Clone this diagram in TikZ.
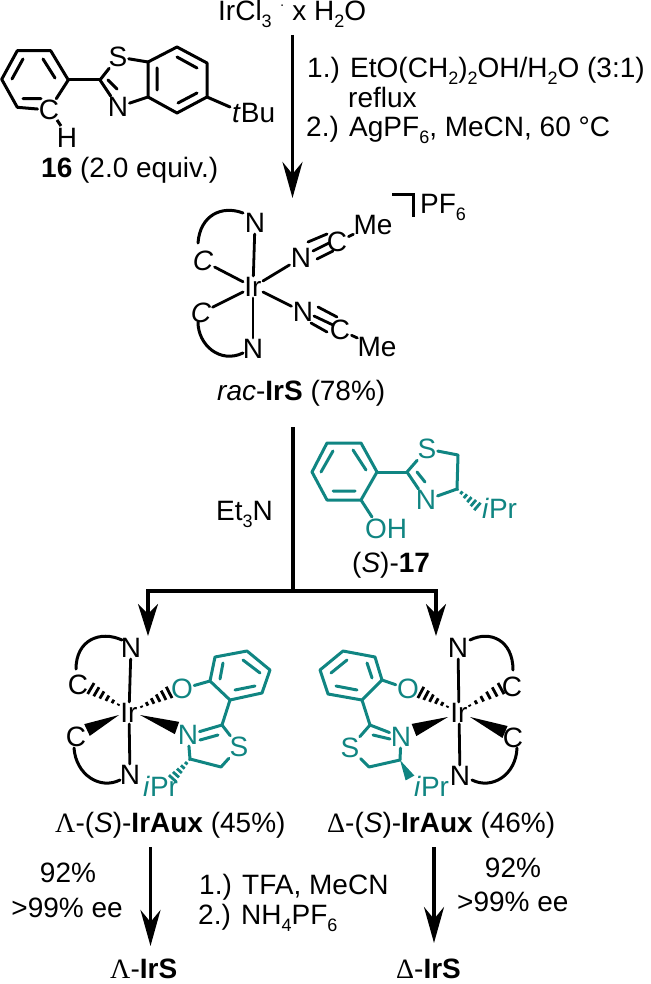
\documentclass[tikz,border=0pt]{standalone}
\usepackage{fontspec}
\setmainfont{Liberation Sans}
\newfontfamily\grk{Liberation Serif}
\usetikzlibrary{calc,arrows.meta}
\definecolor{aux}{RGB}{16,133,130}
\newcommand\sbs[1]{\raisebox{-0.25em}{\fontsize{18}{18}\selectfont #1}}
\newcommand\hashbond[5][black]{%
  \foreach \hs in {0.02,0.21,0.40,0.59,0.78,0.97}{%
    \pgfmathsetlengthmacro\hw{#4+(#5-#4)*\hs}%
    \draw[color=#1,line width=2.8pt]
      ($($(#2)!\hs!(#3)$)!\hw!90:(#3)$) -- ($($(#2)!\hs!(#3)$)!\hw!-90:(#3)$);}}
\newcommand\wedgebond[4][black]{%
  \fill[#1] (#2) -- ($(#3)!#4!90:(#2)$) -- ($(#3)!#4!-90:(#2)$) -- cycle;}
\tikzset{
  txt/.style={inner sep=0pt,anchor=base west,font=\fontsize{28}{30}\selectfont},
  ctxt/.style={inner sep=0pt,anchor=base,font=\fontsize{28}{30}\selectfont},
  atom/.style={inner sep=1.2pt,font=\fontsize{28}{30}\selectfont},
  bond/.style={line width=3pt,line cap=round,line join=round},
  tbond/.style={bond,color=aux},
  mbond/.style={line width=2.8pt,line cap=round},
  arrowA/.style={line width=3.6pt,-{Stealth[length=36pt,width=20pt,inset=12pt]}},
  arrowB/.style={line width=3.2pt,-{Stealth[length=32pt,width=20pt,inset=10pt]}},
  rail/.style={line width=3.4pt}
}
\begin{document}
\begin{tikzpicture}[x=1pt,y=-1pt]
\useasboundingbox (0,0) rectangle (650,984);

% ---- top reagent and conditions
\node[txt] (ircl) at (218,21) {IrCl\sbs{3}\hspace{8pt}\raisebox{0.42em}{\fontsize{14}{14}\selectfont·}\hspace{8pt}x H\sbs{2}O};
\coordinate (a1s) at (292.5,35);
\coordinate (a1e) at (292.5,198);
\draw[arrowA] (a1s) -- (a1e);
\node[txt] (c1) at (307,78) {1.) EtO(CH\sbs{2})\sbs{2}OH/H\sbs{2}O (3:1)};
\node[txt] (c2) at (348,108) {reflux};
\node[txt] (c3) at (306,137) {2.) AgPF\sbs{6}, MeCN, 60 °C};

% ---- compound 16
\draw[bond] (68.3,80) coordinate (p3) -- (50.7,50.7) -- (17.3,50.7) -- (1.7,79.3) -- (17.3,107.3) coordinate (p5);
\node[atom] (c16) at (49,110) {C};
\draw[bond] (p3) -- (c16);
\draw[bond] (p5) -- (c16);
\draw[bond] (43,59) -- (55,78) (12,79) -- (23,59) (23,98.7) -- (41,98.7);
\node[atom] (h16) at (67,138) {H};
\draw[line width=3pt] (57,120) -- (61,126);
\coordinate (t2) at (100,80);
\draw[bond] (p3) -- (t2);
\node[atom] (s16) at (118,57) {S};
\node[atom] (n16) at (118,107) {N};
\draw[bond] (t2) -- (s16);
\draw[bond] (t2) -- (n16);
\draw[bond] (108,80) -- (117,89);
\draw[bond] (148,62) coordinate (b1) -- (177,47) -- (207,63) -- (207,97) coordinate (b4) -- (177,113) -- (148,97) coordinate (b6) -- cycle;
\draw[bond] (s16) -- (b1);
\draw[bond] (n16) -- (b6);
\draw[bond] (157,68) -- (157,90) (177,57) -- (197,68) (178,103) -- (197,93);
\coordinate (tb) at (230,107);
\draw[bond] (b4) -- (tb);
\node[txt] (tbu) at (232,123) {\textit{t}Bu};
\node[txt] (l16) at (41,178) {\textbf{16} (2.0 equiv.)};

% ---- rac-IrS
\node[atom] (ir1) at (253,287) {Ir};
\node[atom] (n1a) at (255,223) {N};
\node[atom] (c1a) at (203,261) {\textit{C}};
\node[atom] (n1b) at (301,258) {N};
\node[atom] (c1b) at (337,242) {C};
\node[txt,anchor=center] (me1) at (373,225) {Me};
\node[atom] (c1c) at (201,313) {\textit{C}};
\node[atom] (n1c) at (253,349) {N};
\node[atom] (n1d) at (303,312) {N};
\node[atom] (c1d) at (340,330) {C};
\node[txt,anchor=center] (me2) at (377,347) {Me};
\draw[mbond] (ir1) -- (n1a);
\draw[mbond] (ir1) -- (c1a);
\draw[mbond] (ir1) -- (n1b);
\draw[mbond] (ir1) -- (c1c);
\draw[mbond] (ir1) -- (n1c);
\draw[mbond] (ir1) -- (n1d);
\draw[mbond] (c1b) -- (me1);
\draw[mbond] (c1d) -- (me2);
\draw[mbond] (308,242) -- (327,234) (313,251) -- (329,243) (317,259) -- (333,251);
\draw[mbond] (318,307) -- (337,317) (314,316) -- (333,325) (311,323) -- (327,332);
\draw[bond] (243,213) .. controls (222,205) and (200,215) .. (198,243);
\draw[bond] (198,322) .. controls (198,345) and (220,364) .. (243,353);
\draw[line width=3pt] (392,195) -- (413,195) -- (413,217);
\node[txt] (pf6) at (420,214) {PF\sbs{6}};
\node[txt] (lrac) at (217,400) {\textit{rac}-\textbf{IrS} (78\%)};

% ---- branching arrow
\coordinate (r0) at (293,427);
\coordinate (rj) at (293,591);
\coordinate (rl) at (148,591);
\coordinate (rr) at (436,591);
\coordinate (al) at (148,636);
\coordinate (ar) at (436,636);
\draw[rail] (r0) -- (rj);
\draw[rail] ($(rl)+(-1.7,0)$) -- ($(rr)+(1.7,0)$);
\draw[arrowB] (rl) -- (al);
\draw[arrowB] (rr) -- (ar);
\node[txt] (et3n) at (216,520) {Et\sbs{3}N};

% ---- (S)-17
\begin{scope}[text=aux]
\node[atom] (s17) at (427,449) {S};
\node[atom] (n17) at (426,500) {N};
\node[txt] (ipr17) at (482,518) {\textit{i}Pr};
\node[txt,anchor=center] (oh17) at (386,529) {OH};
\end{scope}
\draw[tbond] (377,472) coordinate (q1) -- (361,443) -- (327,443) -- (312,472) -- (327,500) -- (361,500) coordinate (q6) -- cycle;
\draw[tbond] (353,450) -- (366,470) (321,472) -- (333,451) (333,491) -- (355,491);
\coordinate (q7) at (407,472);
\coordinate (qo) at (372,517);
\draw[tbond] (q6) -- (qo);
\draw[tbond] (q1) -- (q7);
\draw[tbond] (q7) -- (s17);
\draw[tbond] (q7) -- (n17);
\draw[tbond] (417,472) -- (425,482);
\coordinate (q8) at (458,455);
\coordinate (q9) at (457,489);
\coordinate (q10) at (478,507);
\draw[tbond] (s17) -- (q8) -- (q9) -- (n17);
\hashbond[aux]{q9}{q10}{0.8pt}{5pt}
\node[txt] (l17) at (352,572) {(\textit{S})-\textbf{17}};

% ---- Lambda-(S)-IrAux
\node[atom] (ir2) at (129,713) {Ir};
\node[atom] (n2a) at (131,648) {N};
\node[atom] (c2a) at (78,685) {C};
\node[atom] (c2b) at (76,737) {C};
\node[atom] (n2b) at (130,775) {N};
\draw[mbond] (ir2) -- (n2a);
\draw[mbond] (ir2) -- (n2b);
\draw[bond] (122,640) .. controls (100,630) and (76,640) .. (76,669);
\draw[bond] (74,748) .. controls (76,775) and (100,790) .. (120,780);
\coordinate (h1s) at (119,705); \coordinate (h1e) at (90,688);
\coordinate (h2s) at (141,707); \coordinate (h2e) at (170,692);
\coordinate (w1s) at (119,715); \coordinate (w1e) at (87,730);
\coordinate (w2s) at (140,715); \coordinate (w2e) at (177,728);
\hashbond{h1s}{h1e}{0.8pt}{6.5pt}
\hashbond{h2s}{h2e}{0.8pt}{6.5pt}
\wedgebond{w1s}{w1e}{6.5pt}
\wedgebond{w2s}{w2e}{6.5pt}
\begin{scope}[text=aux]
\node[atom] (o2) at (182,689) {O};
\node[atom] (n2c) at (188,735) {N};
\node[atom] (s2) at (239,747) {S};
\node[txt] (ipr2) at (143,796) {\textit{i}Pr};
\end{scope}
\draw[tbond] (210,681) coordinate (u1) -- (215,657) -- (247,651) -- (270,670) -- (262,693) -- (230,700) coordinate (u6) -- cycle;
\draw[tbond] (220,679) -- (223,663) (243,660) -- (260,673) (235,690) -- (255,686);
\draw[tbond] (o2) -- (u1);
\coordinate (u7) at (222,725);
\draw[tbond] (u6) -- (u7);
\draw[tbond] (u7) -- (n2c);
\draw[tbond] (218,735) -- (200,740);
\draw[tbond] (u7) -- (s2);
\coordinate (u8) at (221,767);
\coordinate (u9) at (190,759);
\coordinate (u10) at (172,779);
\draw[tbond] (s2) -- (u8) -- (u9) -- (n2c);
\hashbond[aux]{u9}{u10}{0.8pt}{5pt}
\node[txt] (l2) at (55,832) {{\grk Λ}-(\textit{S})-\textbf{IrAux} (45\%)};

% ---- Delta-(S)-IrAux
\node[atom] (ir3) at (459,713) {Ir};
\node[atom] (n3a) at (458,648) {N};
\node[atom] (c3a) at (512,687) {C};
\node[atom] (c3b) at (513,738) {C};
\node[atom] (n3b) at (460,776) {N};
\draw[mbond] (ir3) -- (n3a);
\draw[mbond] (ir3) -- (n3b);
\draw[bond] (470,640) .. controls (490,630) and (513,640) .. (513,670);
\draw[bond] (517,748) .. controls (516,775) and (492,790) .. (472,780);
\coordinate (h3s) at (469,706); \coordinate (h3e) at (502,688);
\coordinate (h4s) at (448,707); \coordinate (h4e) at (420,692);
\coordinate (w3s) at (470,717); \coordinate (w3e) at (505,732);
\coordinate (w4s) at (448,717); \coordinate (w4e) at (414,730);
\hashbond{h3s}{h3e}{0.8pt}{6.5pt}
\hashbond{h4s}{h4e}{0.8pt}{6.5pt}
\wedgebond{w3s}{w3e}{6.5pt}
\wedgebond{w4s}{w4e}{6.5pt}
\begin{scope}[text=aux]
\node[atom] (o3) at (408,689) {O};
\node[atom] (n3c) at (401,737) {N};
\node[atom] (s3) at (350,748) {S};
\node[txt] (ipr3) at (414,796) {\textit{i}Pr};
\end{scope}
\draw[tbond] (382,680) coordinate (v1) -- (375,657) -- (343,651) -- (320,670) -- (328,694) -- (362,700) coordinate (v6) -- cycle;
\draw[tbond] (372,678) -- (367,663) (347,660) -- (331,673) (357,690) -- (336,686);
\draw[tbond] (o3) -- (v1);
\coordinate (v7) at (370,725);
\draw[tbond] (v6) -- (v7);
\draw[tbond] (v7) -- (n3c);
\draw[tbond] (373,735) -- (390,739);
\draw[tbond] (v7) -- (s3);
\coordinate (v8) at (369,767);
\coordinate (v9) at (400,760);
\coordinate (v10) at (410,778);
\draw[tbond] (s3) -- (v8) -- (v9) -- (n3c);
\wedgebond[aux]{v9}{v10}{5pt}
\node[txt] (l3) at (327,832) {{\grk Δ}-(\textit{S})-\textbf{IrAux} (46\%)};

% ---- bottom arrows and labels
\coordinate (d1s) at (150.5,847); \coordinate (d1e) at (150.5,946);
\coordinate (d2s) at (434,847); \coordinate (d2e) at (434,943);
\draw[arrowA] (d1s) -- (d1e);
\draw[arrowA] (d2s) -- (d2e);
\node[ctxt] (y1) at (68,882) {92\%};
\node[txt,anchor=base east] (e1) at (123,917) {>99\% ee};
\node[ctxt] (y2) at (513,877) {92\%};
\node[txt] (e2) at (457,911) {>99\% ee};
\node[txt] (t1) at (199,894) {1.) TFA, MeCN};
\node[txt] (t2n) at (198,924) {2.) NH\sbs{4}PF\sbs{6}};
\node[txt] (f1) at (110,978) {{\grk Λ}-\textbf{IrS}};
\node[txt] (f2) at (396,978) {{\grk Δ}-\textbf{IrS}};
\end{tikzpicture}
\end{document}
